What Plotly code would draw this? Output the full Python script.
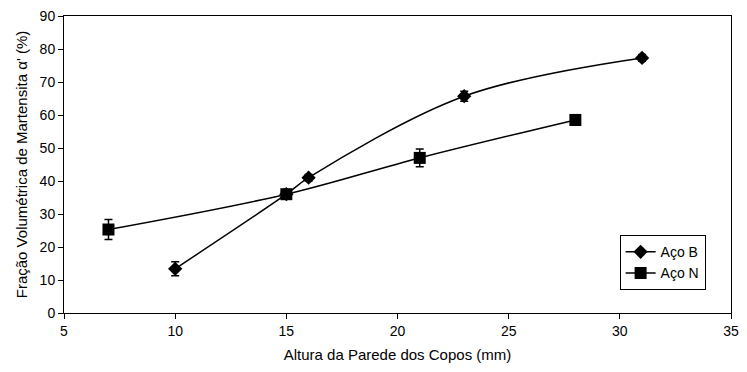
import plotly.graph_objects as go

# Data
b_x = [10, 15, 16, 23, 31]
b_y = [13.4, 36.0, 41.0, 65.7, 77.3]
b_err = [2.1, 1.0, 1.0, 1.5, 1.0]

n_x = [7, 15, 21, 28]
n_y = [25.3, 36.0, 47.0, 58.5]
n_err = [3.0, 1.0, 2.7, 1.6]

x_ticks = [5, 10, 15, 20, 25, 30, 35]
y_ticks = [0, 10, 20, 30, 40, 50, 60, 70, 80, 90]

font = "Liberation Sans, Arial, sans-serif"

fig = go.Figure()
fig.add_trace(go.Scatter(
    x=b_x, y=b_y, name="Aço B", mode="lines+markers",
    line=dict(color="black", width=1.5, shape="spline", smoothing=1.0),
    marker=dict(symbol="diamond", size=11, color="black"),
    error_y=dict(type="data", array=b_err, color="black", thickness=1.5, width=4),
))
fig.add_trace(go.Scatter(
    x=n_x, y=n_y, name="Aço N", mode="lines+markers",
    line=dict(color="black", width=1.5, shape="spline", smoothing=1.0),
    marker=dict(symbol="square", size=12, color="black"),
    error_y=dict(type="data", array=n_err, color="black", thickness=1.5, width=4),
))

fig.update_layout(
    width=747, height=372,
    margin=dict(l=64, r=8, t=12, b=59),
    paper_bgcolor="white", plot_bgcolor="white",
    font=dict(family=font, color="black", size=14),
    showlegend=True,
    legend=dict(
        x=0.833, y=0.262, xanchor="left", yanchor="top",
        bordercolor="black", borderwidth=1, bgcolor="white",
        font=dict(size=14), tracegroupgap=0, itemwidth=30,
    ),
    xaxis=dict(
        range=[5, 35], tickvals=x_ticks, ticks="outside", ticklen=5,
        tickcolor="black", showline=True, linecolor="black", linewidth=1,
        mirror=True, showgrid=False, zeroline=False,
        tickfont=dict(size=14),
        title=dict(text="Altura da Parede dos Copos (mm)", font=dict(size=15), standoff=11),
    ),
    yaxis=dict(
        range=[0, 90], tickvals=y_ticks, ticks="outside", ticklen=5,
        tickcolor="black", showline=True, linecolor="black", linewidth=1,
        mirror=True, showgrid=False, zeroline=False,
        tickfont=dict(size=14),
        title=dict(text="Fração Volumétrica de Martensita α' (%)", font=dict(size=15), standoff=8),
    ),
)

fig.write_html("out.html")
